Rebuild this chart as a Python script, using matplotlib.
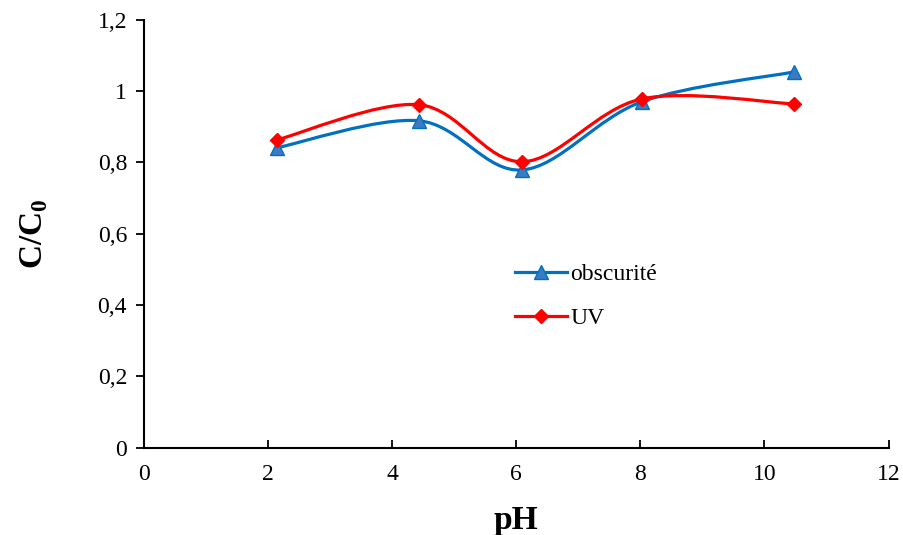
import numpy as np
import matplotlib.pyplot as plt
from matplotlib.path import Path
from matplotlib.patches import PathPatch
from matplotlib.lines import Line2D
from matplotlib.ticker import FuncFormatter

plt.rcParams['font.family'] = ['Liberation Serif', 'DejaVu Serif']
plt.rcParams['mathtext.fontset'] = 'custom'
plt.rcParams['mathtext.bf'] = 'Liberation Serif:bold'
plt.rcParams['mathtext.rm'] = 'Liberation Serif'

ph = [2.14, 4.43, 6.10, 8.02, 10.48]
obscurite = [0.841, 0.917, 0.779, 0.970, 1.054]
uv = [0.863, 0.962, 0.802, 0.978, 0.964]

bleu = '#0070C0'
rouge = '#FF0000'


# courbe lissee facon Excel (Bezier, tangentes Catmull-Rom)
def courbe_lisse(x, y):
    pts = np.column_stack([x, y])
    n = len(pts)
    verts = [pts[0]]
    codes = [Path.MOVETO]
    for i in range(n - 1):
        p0 = pts[i - 1] if i > 0 else pts[i]
        p1 = pts[i]
        p2 = pts[i + 1]
        p3 = pts[i + 2] if i + 2 < n else pts[i + 1]
        c1 = p1 + (p2 - p0) / 6
        c2 = p2 - (p3 - p1) / 6
        verts += [c1, c2, p2]
        codes += [Path.CURVE4] * 3
    return Path(verts, codes)


fig = plt.figure(figsize=(9.04, 5.35), dpi=100)
ax = fig.add_axes([0.159, 0.163, 0.824, 0.800])

ax.add_patch(PathPatch(courbe_lisse(ph, obscurite), fill=False, edgecolor=bleu, lw=2.3, zorder=2))
ax.add_patch(PathPatch(courbe_lisse(ph, uv), fill=False, edgecolor=rouge, lw=2.3, zorder=3))
ax.plot(ph, obscurite, ls='none', marker='^', ms=10, mfc='#3B7BC4', mec=bleu, zorder=4)
ax.plot(ph, uv, ls='none', marker='D', ms=7.5, mfc=rouge, mec=rouge, zorder=5)

ax.set_xlim(0, 12)
ax.set_ylim(0, 1.2)
ax.set_xticks(np.arange(0, 13, 2))
ax.set_yticks(np.arange(0, 1.21, 0.2))
ax.yaxis.set_major_formatter(FuncFormatter(lambda v, p: ('%g' % round(v, 1)).replace('.', ',')))

for s in ['top', 'right']:
    ax.spines[s].set_visible(False)
for s in ['left', 'bottom']:
    ax.spines[s].set_linewidth(1.5)
ax.tick_params(axis='x', direction='in', length=6, width=1.3, labelsize=17, pad=12)
ax.tick_params(axis='y', direction='out', length=6, width=1.3, labelsize=17, pad=6)

ax.set_xlabel('pH', fontsize=24, fontweight='bold', labelpad=14)
ax.set_ylabel(r'C/C$_\mathbf{0}$', fontsize=24, fontweight='bold', labelpad=34)

handles = [Line2D([], [], color=bleu, lw=2.3, marker='^', ms=10, mfc='#3B7BC4', mec=bleu),
           Line2D([], [], color=rouge, lw=2.3, marker='D', ms=7.5, mfc=rouge, mec=rouge)]
ax.legend(handles, ['obscurité', 'UV'], loc='upper left', bbox_to_anchor=(0.47, 0.48),
          frameon=False, fontsize=17, handlelength=2.2, handletextpad=0.15, labelspacing=0.95)

fig.savefig('out.png', dpi=100)
